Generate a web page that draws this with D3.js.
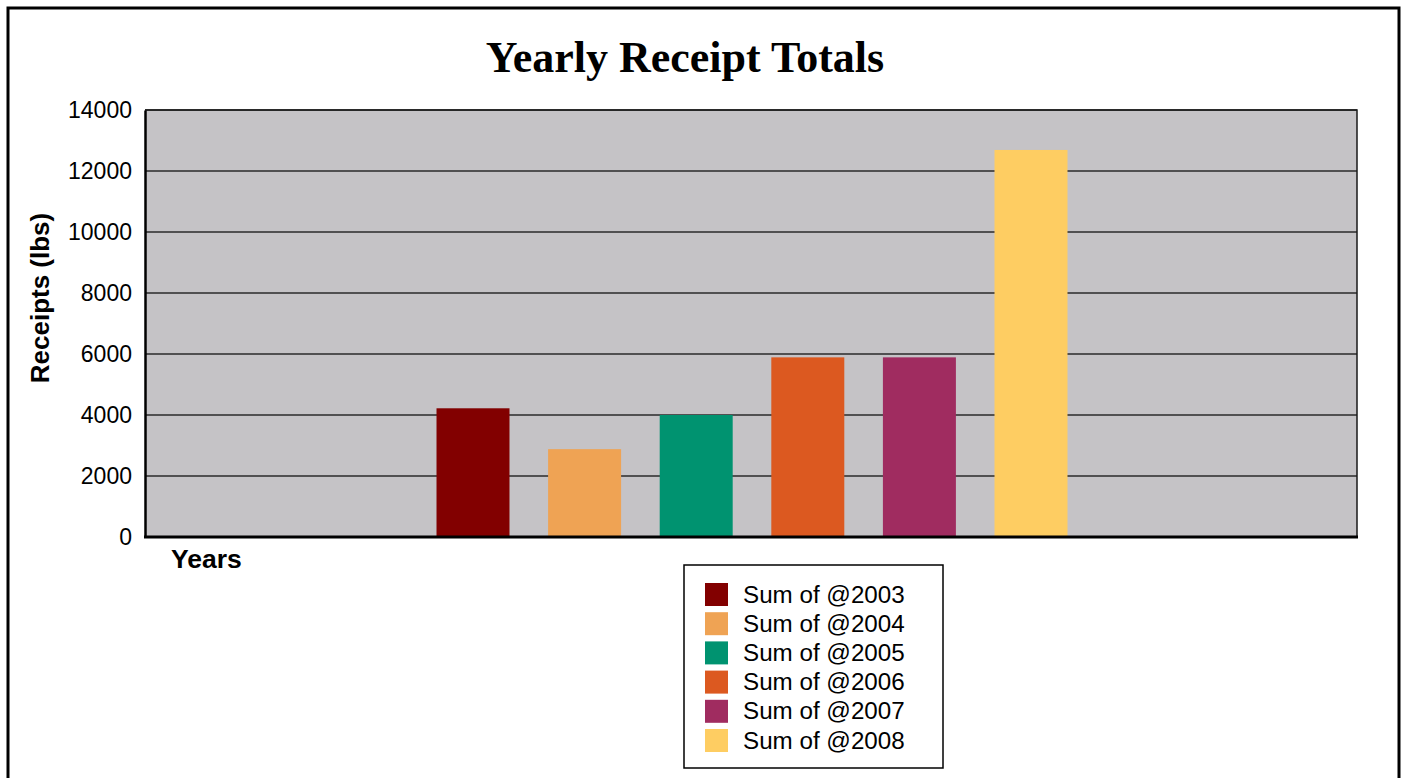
<!DOCTYPE html>
<html>
<head>
<meta charset="utf-8">
<script src="https://cdn.jsdelivr.net/npm/d3@7"></script>
<style>
  html, body { margin: 0; padding: 0; background: #fff; }
  svg { display: block; }
</style>
</head>
<body>
<svg id="chart" width="1403" height="778"></svg>
<script>
// ---- data ----
const categories = ["Years"];
const seriesNames = ["Sum of @2003", "Sum of @2004", "Sum of @2005", "Sum of @2006", "Sum of @2007", "Sum of @2008"];
const seriesValues = [4220, 2880, 4000, 5890, 5890, 12690];
const seriesColors = ["#820000", "#EFA354", "#009370", "#DC5920", "#A02C60", "#FECD62"];
const yTicks = [0, 2000, 4000, 6000, 8000, 10000, 12000, 14000];

const svg = d3.select("#chart");

// outer frame
svg.append("rect").attr("x", 8).attr("y", 8).attr("width", 1391).attr("height", 800)
  .attr("fill", "#fff").attr("stroke", "#000").attr("stroke-width", 3);

const plot = { left: 145, top: 110, right: 1357, bottom: 537 };
const pw = plot.right - plot.left, ph = plot.bottom - plot.top;

const y = d3.scaleLinear().domain([0, 14000]).range([plot.bottom, plot.top]);

const x0 = d3.scaleBand().domain(categories).range([plot.left, plot.right]).paddingInner(0).paddingOuter(0.4604);
const x1 = d3.scaleBand().domain(seriesNames).range([0, x0.bandwidth()]).paddingInner(0.346).paddingOuter(0);

// plot background
svg.append("rect").attr("x", plot.left).attr("y", plot.top).attr("width", pw).attr("height", ph)
  .attr("fill", "#C5C3C6");

// gridlines
svg.append("g").selectAll("line").data(yTicks.filter(d => d > 0)).join("line")
  .attr("x1", plot.left).attr("x2", plot.right)
  .attr("y1", d => y(d)).attr("y2", d => y(d))
  .attr("stroke", "#2a2a2a").attr("stroke-width", 1.5);

// bars
const g = svg.append("g").attr("transform", `translate(${x0(categories[0]) + 1},0)`);
g.selectAll("rect").data(seriesNames.map((s, i) => ({ s, v: seriesValues[i], c: seriesColors[i] })))
  .join("rect")
  .attr("x", d => x1(d.s)).attr("width", x1.bandwidth())
  .attr("y", d => y(d.v)).attr("height", d => y(0) - y(d.v))
  .attr("fill", d => d.c);

// plot border (top/right thin)
svg.append("path")
  .attr("d", `M${plot.left},${plot.top}H${plot.right}V${plot.bottom}`)
  .attr("fill", "none").attr("stroke", "#1a1a1a").attr("stroke-width", 1.5);

// y axis
const yAxis = d3.axisLeft(y).tickValues(yTicks).tickSize(0).tickPadding(13).tickFormat(d3.format("d"));
const ya = svg.append("g").attr("transform", `translate(${plot.left},0)`).call(yAxis);
ya.select(".domain").attr("stroke", "#000").attr("stroke-width", 2.5);
ya.selectAll("text").attr("font-family", "Liberation Sans, Arial, sans-serif").attr("font-size", 23).attr("fill", "#000");

// x axis (baseline)
svg.append("line").attr("x1", plot.left - 1).attr("x2", plot.right + 1)
  .attr("y1", plot.bottom).attr("y2", plot.bottom)
  .attr("stroke", "#000").attr("stroke-width", 3);

// title
svg.append("text").attr("x", 685).attr("y", 72).attr("text-anchor", "middle")
  .attr("font-family", "Liberation Serif, Times New Roman, serif").attr("font-weight", "bold")
  .attr("font-size", 44).attr("fill", "#000").text("Yearly Receipt Totals");

// y axis title
svg.append("text").attr("transform", "translate(49,298) rotate(-90)").attr("text-anchor", "middle")
  .attr("font-family", "Liberation Sans, Arial, sans-serif").attr("font-weight", "bold")
  .attr("font-size", 26).attr("fill", "#000").text("Receipts (lbs)");

// x category label
svg.append("text").attr("x", 171).attr("y", 568)
  .attr("font-family", "Liberation Sans, Arial, sans-serif").attr("font-weight", "bold")
  .attr("font-size", 26.5).attr("fill", "#000").text(categories[0]);

// legend
const lg = svg.append("g").attr("transform", "translate(684,565)");
lg.append("rect").attr("width", 259).attr("height", 203).attr("fill", "#fff")
  .attr("stroke", "#000").attr("stroke-width", 1.5);
const rowH = 29.2;
const items = lg.selectAll("g.item").data(seriesNames).join("g").attr("class", "item")
  .attr("transform", (d, i) => `translate(21,${18 + i * rowH})`);
items.append("rect").attr("width", 23).attr("height", 23).attr("fill", (d, i) => seriesColors[i]);
items.append("text").attr("x", 38).attr("y", 19.5)
  .attr("font-family", "Liberation Sans, Arial, sans-serif").attr("font-size", 24.2).attr("fill", "#000")
  .text(d => d);
</script>
</body>
</html>
